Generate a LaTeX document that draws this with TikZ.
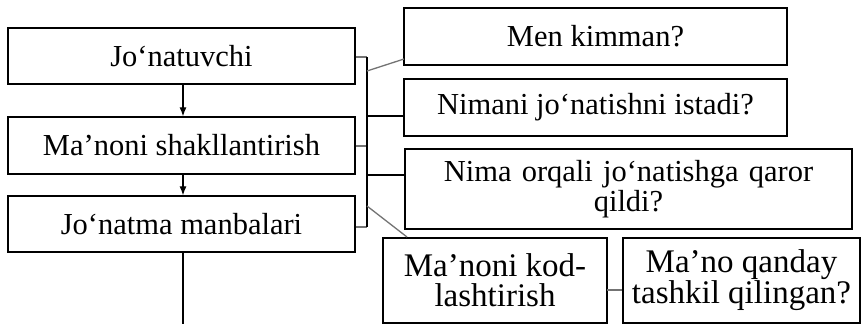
\documentclass[tikz,border=0pt]{standalone}
\usepackage{fontspec}
\setmainfont{Liberation Serif}
\usetikzlibrary{arrows.meta,calc}
\begin{document}
\begin{tikzpicture}[x=1pt,y=-1pt,
  box/.style={draw=black,line width=1.3pt,rectangle,inner sep=0pt,align=center,
    font=\fontsize{30.5}{30}\selectfont},
  bigbox/.style={box,font=\fontsize{33}{30}\selectfont},
  link/.style={draw=black,line width=1.2pt},
  faint/.style={draw=black!55,line width=1.3pt},
  flow/.style={draw=black,line width=1.2pt,-{Latex[length=9pt,width=7pt]}}]
\useasboundingbox (0,0) rectangle (861,324);

% main column
\node[box,minimum width=347pt,minimum height=56pt] (j1) at (181.5,56) {Jo‘natuvchi};
\node[box,minimum width=347pt,minimum height=57pt] (j2) at (181.5,145.5) {Ma’noni shakllantirish};
\node[box,minimum width=347pt,minimum height=56pt] (j3) at (181.5,224) {Jo‘natma manbalari};

% questions on the right
\node[box,minimum width=383pt,minimum height=57pt] (q1) at (595.5,36.5) {Men kimman?};
\node[box,minimum width=383pt,minimum height=57pt] (q2) at (595.5,107.5) {Nimani jo‘natishni istadi?};
\node[box,minimum width=447pt,minimum height=80pt,text width=430pt] (q3) at (628.5,189)
  {Nima orqali jo‘natishga qaror\\qildi?};

% bottom row
\node[bigbox,minimum width=224pt,minimum height=85pt] (k1) at (495,280.5) {Ma’noni kod-\\lashtirish};
\node[bigbox,minimum width=237pt,minimum height=85pt] (k2) at (741.5,280.5) {Ma’no qanday\\tashkil qilingan?};

% flow down the column
\draw[flow] (j1.south -| 183,0) -- (j2.north -| 183,0);
\draw[flow] (j2.south -| 183,0) -- (j3.north -| 183,0);
\coordinate (tail) at (183,324);
\draw[link] (j3.south -| 183,0) -- (tail);

% bracket joining the column to the questions
\coordinate (bt) at (367,57);
\coordinate (bm) at (367,146);
\coordinate (bb) at (367,227);
\draw[faint] (j1.east |- bt) -- (bt);
\draw[faint] (j2.east |- bm) -- (bm);
\draw[faint] (j3.east |- bb) -- (bb);
\draw[link] (bt) -- (bb);
\coordinate (d1) at (367,71);
\coordinate (d1e) at (404,59);
\draw[faint] (d1) -- (d1e);
\coordinate (h2) at (367,116);
\draw[link] (h2) -- (q2.west |- h2);
\coordinate (h3) at (367,175);
\draw[link] (h3) -- (q3.west |- h3);
\coordinate (d2) at (367,206);
\coordinate (d2e) at (407,237);
\draw[faint] (d2) -- (d2e);

% link between the bottom boxes
\coordinate (kk) at (607,290);
\draw[faint] (kk) -- (k2.west |- kk);
\end{tikzpicture}
\end{document}
